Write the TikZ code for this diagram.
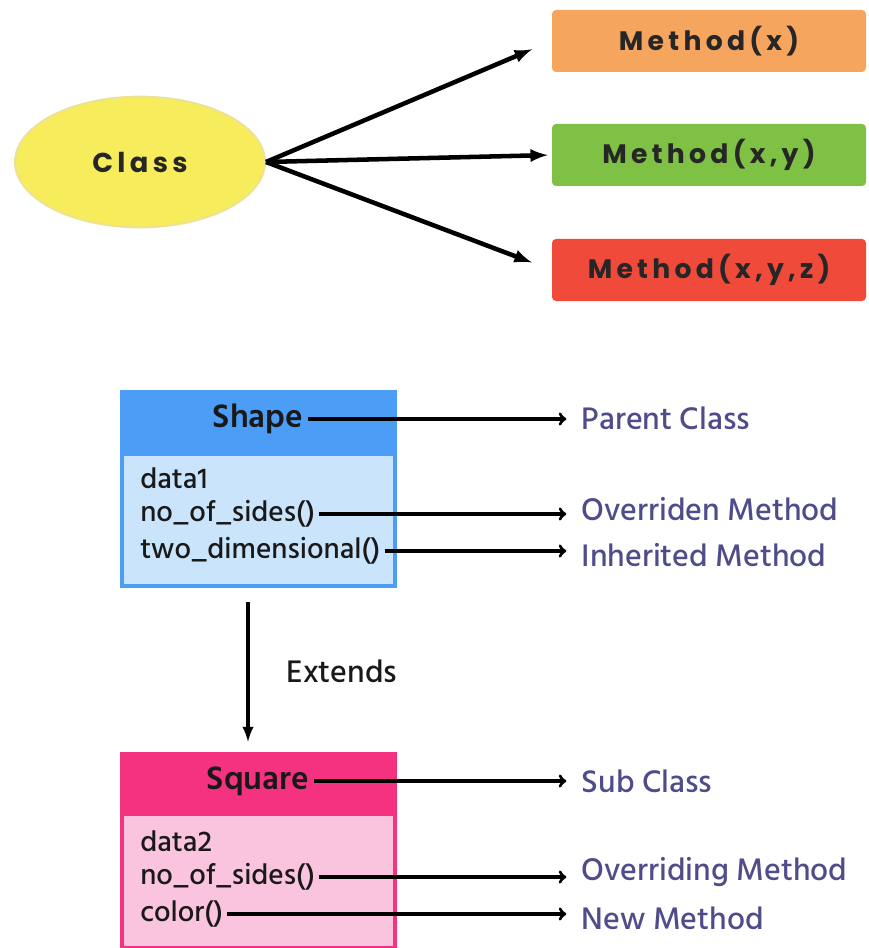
\documentclass[tikz,border=0pt]{standalone}
\usepackage{fontspec}
\setmainfont{Hind Siliguri}[UprightFont=* Medium, BoldFont=* SemiBold]
\newfontfamily\popfont[LetterSpace=16]{Poppins}
\usepackage{tikz}
\usetikzlibrary{calc}
\usetikzlibrary{shapes, arrows}
\definecolor{clsyellow}{RGB}{246,236,92}
\definecolor{clsglow}{RGB}{236,226,150}
\definecolor{methorange}{RGB}{245,165,94}
\definecolor{methgreen}{RGB}{126,193,68}
\definecolor{methred}{RGB}{240,74,58}
\definecolor{shapeblue}{RGB}{76,157,246}
\definecolor{shapelight}{RGB}{202,228,251}
\definecolor{sqpink}{RGB}{245,50,128}
\definecolor{sqlight}{RGB}{251,196,222}
\definecolor{lblcol}{RGB}{79,76,138}
\tikzset{cls/.style={ellipse, minimum width=187.5pt, minimum height=98pt, draw=clsglow, line width=1.5pt, fill=clsyellow, text=black!85, font=\popfont\bfseries\fontsize{20.5}{24}\selectfont},
        meth/.style={minimum width=235.5pt, minimum height=46.5pt, rounded corners=3pt, text=black!85, font=\popfont\bfseries\fontsize{20}{24}\selectfont},
        box/.style={minimum width=207.75pt, minimum height=148.5pt, inner sep=0pt},
        ttl/.style={font=\bfseries\fontsize{25}{29}\selectfont, text=black!90},
        member/.style={anchor=west, inner sep=3pt, font=\fontsize{22}{26}\selectfont, text=black!90},
        lbl/.style={anchor=west, text=lblcol, font=\fontsize{24}{28}\selectfont},
        lnk/.style={->, line width=2.4pt, shorten >=8pt},
        fan/.style={-latex, line width=3.4pt}}

\begin{document}
\begin{tikzpicture}[x=0.75pt, y=-0.75pt]
    \useasboundingbox (0,0) rectangle (868,948);

    % overloading: one class, three methods
    \node (cls) at (140,162) [cls] {Class};
    \foreach \y/\txt/\col [count=\i] in {41/{Method(x)}/methorange, 155/{Method(x,y)}/methgreen, 270/{Method(x,y,z)}/methred} {
        \node (m\i) at (709,\y) [meth, fill=\col] {\txt};
    }
    \foreach \i/\s in {1/16,2/3,3/16} {
        \draw[fan, shorten >=\s pt] (cls.east) -- (m\i.west);
    }

    % overriding: parent class
    \node (shapeBox) at (258.5,489) [box, fill=shapeblue] {};
    \fill[shapelight] ($(shapeBox.north west)+(4,66)$) rectangle ($(shapeBox.south east)+(-4,-4)$);
    \node (sTitle) at (258,419) [ttl] {Shape};
    \foreach \n/\y/\txt in {sData/478/data1, sSides/514/{no\_of\_sides()}, sTwo/551/{two\_dimensional()}} {
        \node (\n) at (136,\y) [member] {\txt};
    }

    % overriding: sub class
    \node (sqBox) at (258.5,851) [box, fill=sqpink] {};
    \fill[sqlight] ($(sqBox.north west)+(4,64)$) rectangle ($(sqBox.south east)+(-4,-4)$);
    \node (qTitle) at (258,781) [ttl] {Square};
    \foreach \n/\y/\txt in {qData/841/data2, qSides/877/{no\_of\_sides()}, qColor/914/{color()}} {
        \node (\n) at (136,\y) [member] {\txt};
    }

    \draw[-latex, line width=2.8pt] ($(shapeBox.south)+(-10.5,14)$) -- ($(sqBox.north)+(-10.5,-10)$);
    \node (ext) at (342,671) [member, anchor=center, font=\fontsize{24}{28}\selectfont] {Extends};

    % labels on the right
    \foreach \n/\y/\txt in {lParent/418/Parent Class, lOver/509/Overriden Method, lInher/555/Inherited Method, lSub/781/Sub Class, lOvering/872/Overriding Method, lNew/918/New Method} {
        \node (\n) at (577,\y) [lbl] {\txt};
    }
    \foreach \a/\b in {sTitle/lParent, sSides/lOver, sTwo/lInher, qTitle/lSub, qSides/lOvering, qColor/lNew} {
        \draw[lnk] (\a.east) -- (\a.east -| \b.west);
    }
\end{tikzpicture}
\end{document}
